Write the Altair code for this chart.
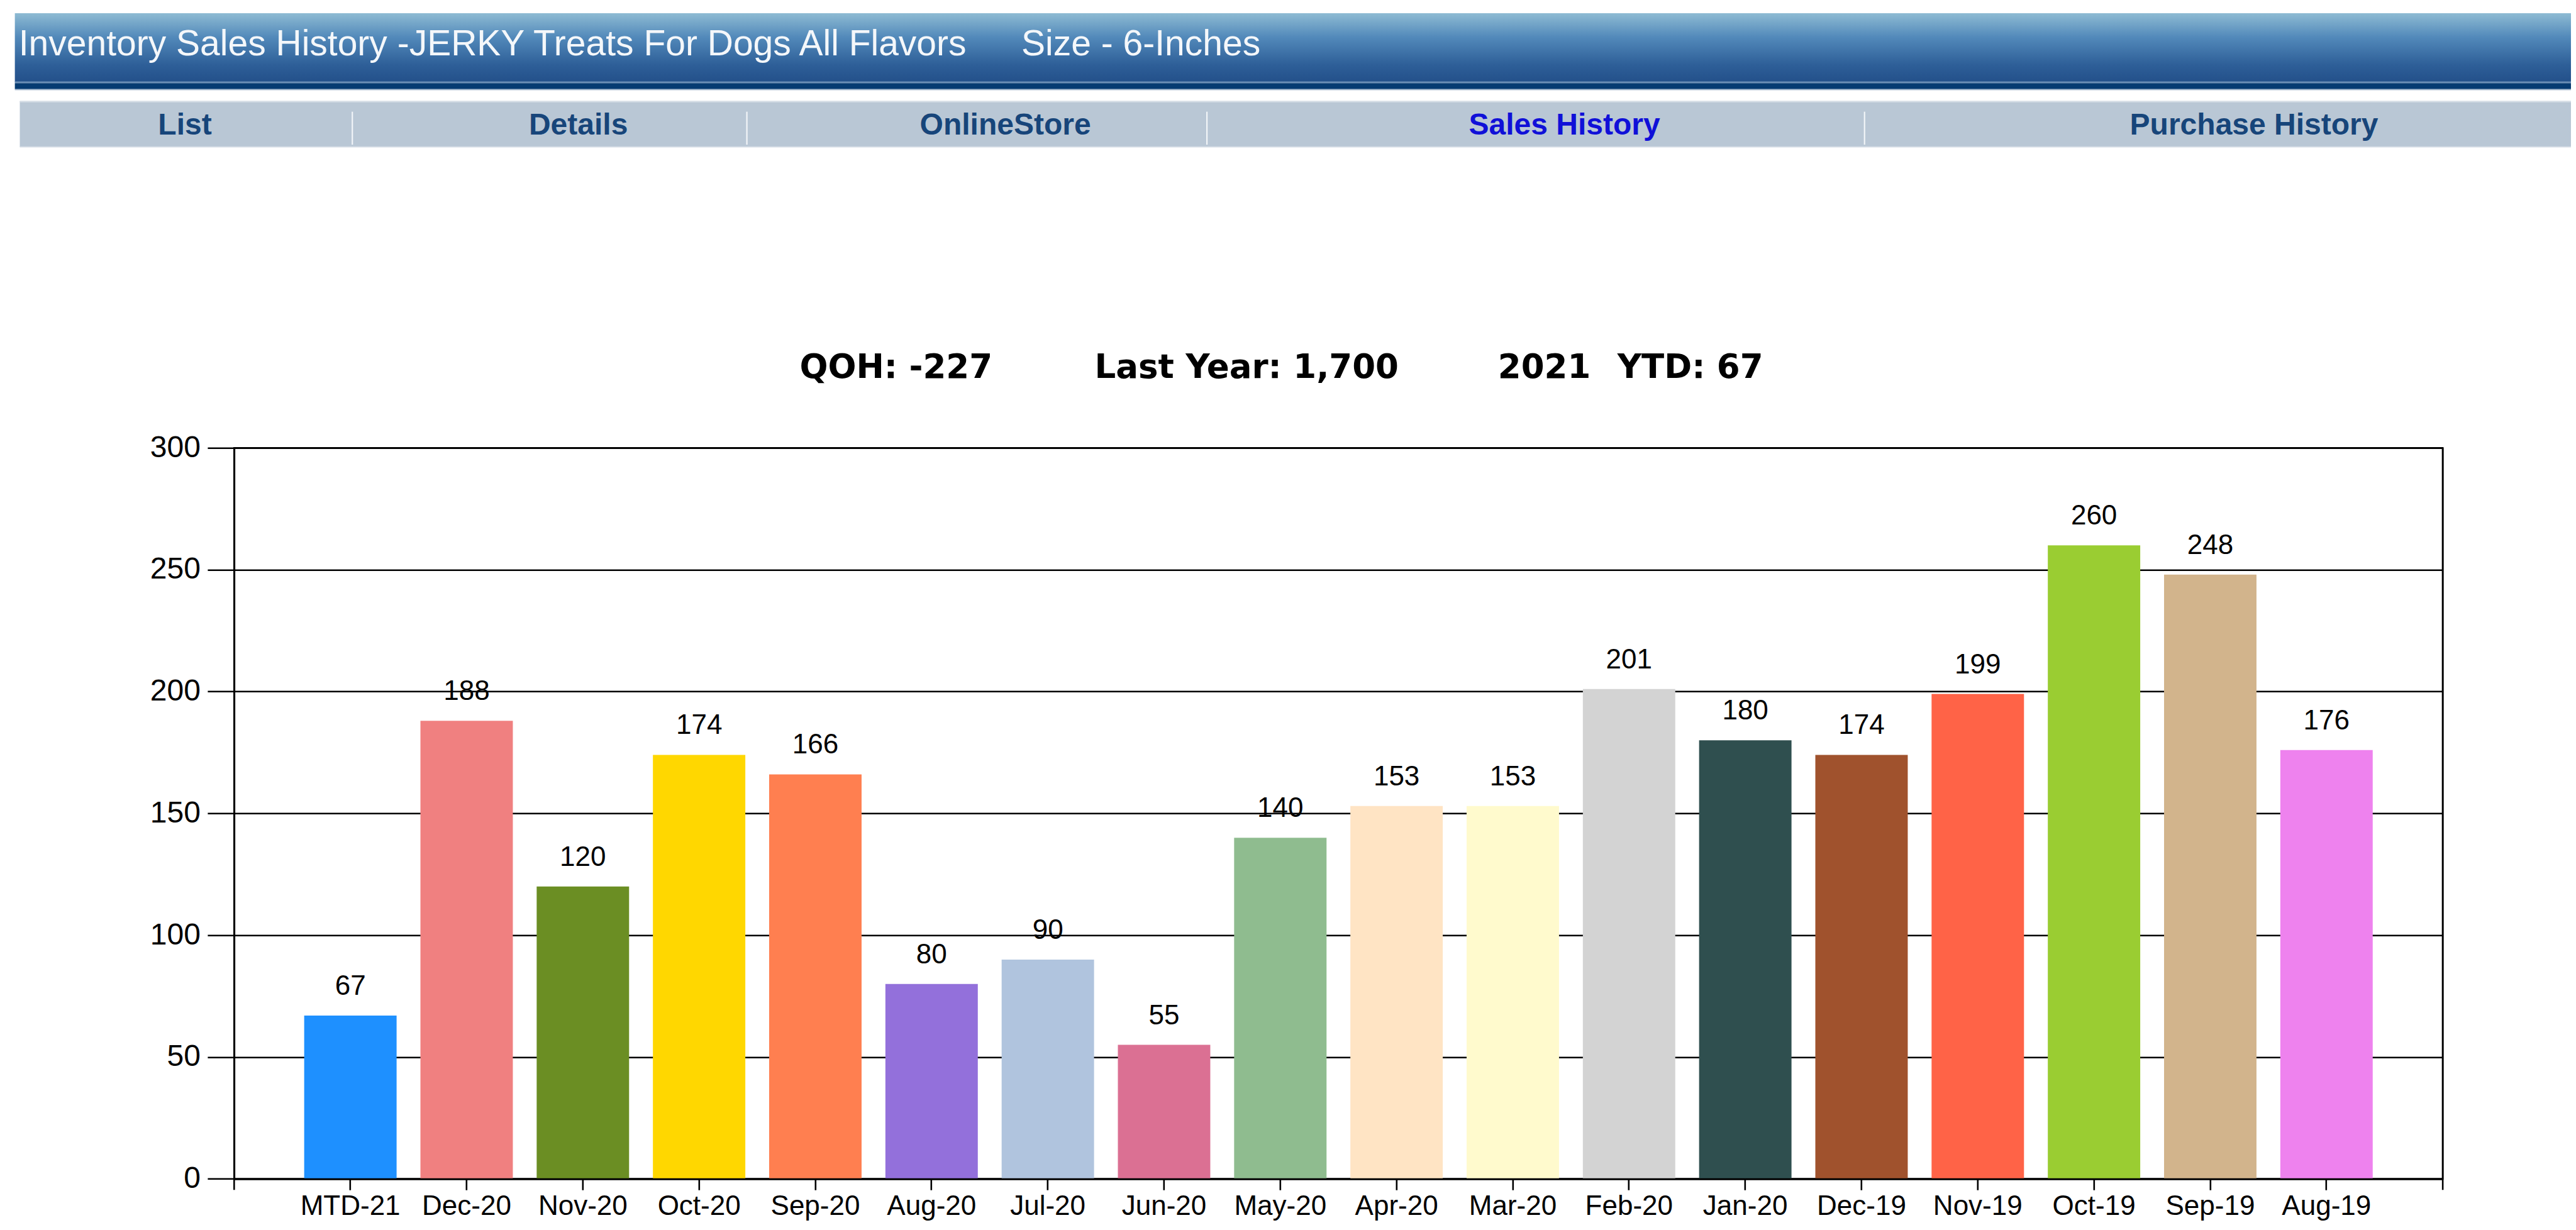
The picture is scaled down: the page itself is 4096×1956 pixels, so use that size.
import altair as alt
import pandas as pd

# ---------------- data ----------------
months = ["MTD-21", "Dec-20", "Nov-20", "Oct-20", "Sep-20", "Aug-20", "Jul-20", "Jun-20",
          "May-20", "Apr-20", "Mar-20", "Feb-20", "Jan-20", "Dec-19", "Nov-19", "Oct-19",
          "Sep-19", "Aug-19"]
sales = [67, 188, 120, 174, 166, 80, 90, 55, 140, 153, 153, 201, 180, 174, 199, 260, 248, 176]
bar_colors = ["#1E90FF", "#F08080", "#6B8E23", "#FFD700", "#FF7F50", "#9370DB", "#B0C4DE",
              "#DB7093", "#8FBC8F", "#FFE4C4", "#FFFACD", "#D3D3D3", "#2F4F4F", "#A0522D",
              "#FF6347", "#9ACD32", "#D2B48C", "#EE82EE"]
y_ticks = [0, 50, 100, 150, 200, 250, 300]
page_title = "Inventory Sales History -JERKY Treats For Dogs All Flavors"
size_text = "Size - 6-Inches"
nav_items = ["List", "Details", "OnlineStore", "Sales History", "Purchase History"]
summary_items = ["QOH: -227", "Last Year: 1,700", "2021", "YTD: 67"]

df = pd.DataFrame({"month": months, "sales": sales})
one = pd.DataFrame({"k": [0]})

# ---------------- layout (canvas pixels) ----------------
S = 0.875
PAD_L = 425.5 * S - 8
PAD_T = 814 * S - 8
W = (4439 - 425.5) * S
H = (2142.5 - 814) * S
CANVAS_W = 4080
CANVAS_H = 1936
PAD_R = CANVAS_W - PAD_L - W
PAD_B = CANVAS_H - PAD_T - H


def cx(ref):
    return ref * S - 8 - PAD_L


def cy(ref):
    return ref * S - 8 - PAD_T


RIGHT = W + PAD_R
LINE = 2.6
FONT = "Liberation Sans"

layers = []

# header bar with gradient
layers.append(
    alt.Chart(one).mark_rect(
        fill=alt.Gradient(
            gradient="linear",
            stops=[alt.GradientStop(color="#8EBBD3", offset=0),
                   alt.GradientStop(color="#5289BA", offset=0.35),
                   alt.GradientStop(color="#2E5F98", offset=0.75),
                   alt.GradientStop(color="#23508A", offset=1)],
            x1=0, x2=0, y1=0, y2=1)
    ).encode(x=alt.value(cx(27)), x2=alt.value(RIGHT), y=alt.value(cy(24)), y2=alt.value(cy(149)))
)
layers.append(
    alt.Chart(one).mark_rect(fill="#6A8DB5").encode(
        x=alt.value(cx(27)), x2=alt.value(RIGHT), y=alt.value(cy(148)), y2=alt.value(cy(151)))
)
layers.append(
    alt.Chart(one).mark_rect(fill="#063B72").encode(
        x=alt.value(cx(27)), x2=alt.value(RIGHT), y=alt.value(cy(151)), y2=alt.value(cy(162)))
)
layers.append(
    alt.Chart(one).mark_rect(fill="#A9BCD0").encode(
        x=alt.value(cx(27)), x2=alt.value(RIGHT), y=alt.value(cy(162)), y2=alt.value(cy(164)))
)
layers.append(
    alt.Chart(one).mark_text(text=page_title, align="left", baseline="alphabetic", font=FONT,
                             fontSize=57, color="#F4F7FA").encode(
        x=alt.value(cx(34)), y=alt.value(cy(100)))
)
layers.append(
    alt.Chart(one).mark_text(text=size_text, align="left", baseline="alphabetic", font=FONT,
                             fontSize=57, color="#F4F7FA").encode(
        x=alt.value(cx(1856)), y=alt.value(cy(100)))
)

# navigation bar
layers.append(
    alt.Chart(one).mark_rect(fill="#B9C7D5").encode(
        x=alt.value(cx(36)), x2=alt.value(RIGHT), y=alt.value(cy(184)), y2=alt.value(cy(267)))
)
layers.append(
    alt.Chart(one).mark_rect(fill="#D6DEE6").encode(
        x=alt.value(cx(36)), x2=alt.value(RIGHT), y=alt.value(cy(183)), y2=alt.value(cy(186)))
)
layers.append(
    alt.Chart(one).mark_rect(fill="#D6DEE6").encode(
        x=alt.value(cx(36)), x2=alt.value(RIGHT), y=alt.value(cy(266)), y2=alt.value(cy(268)))
)
for sep in [640, 1357, 2193, 3388]:
    layers.append(
        alt.Chart(one).mark_rect(fill="#F2F5F8").encode(
            x=alt.value(cx(sep - 1)), x2=alt.value(cx(sep + 1.5)),
            y=alt.value(cy(203)), y2=alt.value(cy(263)))
    )
nav_centers = [336, 1051, 1827, 2843, 4096]
for item, c in zip(nav_items, nav_centers):
    layers.append(
        alt.Chart(one).mark_text(text=item, align="center", baseline="alphabetic", font=FONT,
                                 fontSize=48, fontWeight="bold",
                                 color="#1010D8" if item == "Sales History" else "#17457A").encode(
            x=alt.value(cx(c)), y=alt.value(cy(245)))
    )

# summary line
for item, left in zip(summary_items, [1453, 1989, 2722, 2939]):
    layers.append(
        alt.Chart(one).mark_text(text=item, align="left", baseline="alphabetic",
                                 font="DejaVu Sans", fontSize=53, fontWeight="bold",
                                 color="#000000").encode(
            x=alt.value(cx(left)), y=alt.value(cy(687)))
    )

# ---------------- bar chart ----------------
x_enc = alt.X("month:N", sort=months,
              scale=alt.Scale(paddingInner=0.205, paddingOuter=0.6025),
              axis=alt.Axis(title=None, labelAngle=0, grid=False, tickSize=17.5,
                            tickColor="black", tickWidth=LINE, domainColor="black",
                            domainWidth=3, labelFont=FONT, labelFontSize=44,
                            labelColor="black", labelPadding=4, zindex=1))
y_enc = alt.Y("sales:Q", scale=alt.Scale(domain=[0, 300], nice=False),
              axis=alt.Axis(title=None, values=y_ticks, grid=True, gridColor="black",
                            gridWidth=LINE, gridOpacity=1, tickSize=42.4, tickColor="black",
                            tickWidth=LINE, domainColor="black", domainWidth=LINE,
                            labelFont=FONT, labelFontSize=48, labelColor="black",
                            labelPadding=11.5, zindex=0))

bars = alt.Chart(df).mark_bar(strokeWidth=0).encode(
    x=x_enc, y=y_enc,
    color=alt.Color("month:N", scale=alt.Scale(domain=months, range=bar_colors), legend=None),
)
labels = alt.Chart(df).mark_text(dy=-33, baseline="alphabetic", font=FONT, fontSize=44,
                                 color="black").encode(
    x=alt.X("month:N", sort=months), y=alt.Y("sales:Q"), text=alt.Text("sales:Q"))

layers.append(bars)
layers.append(labels)

# edge ticks under the plot frame
for xv in [0, W]:
    layers.append(
        alt.Chart(one).mark_rule(color="black", strokeWidth=LINE).encode(
            x=alt.value(xv), y=alt.value(0), y2=alt.value(H + 17.5))
    )

chart = alt.layer(*layers).properties(
    width=W, height=H,
    autosize=alt.AutoSizeParams(type="none"),
    padding={"left": PAD_L, "top": PAD_T, "right": PAD_R, "bottom": PAD_B},
    background="white",
).configure_view(stroke="black", strokeWidth=LINE)

chart.save("out.html", embed_options={"renderer": "svg", "actions": False})
